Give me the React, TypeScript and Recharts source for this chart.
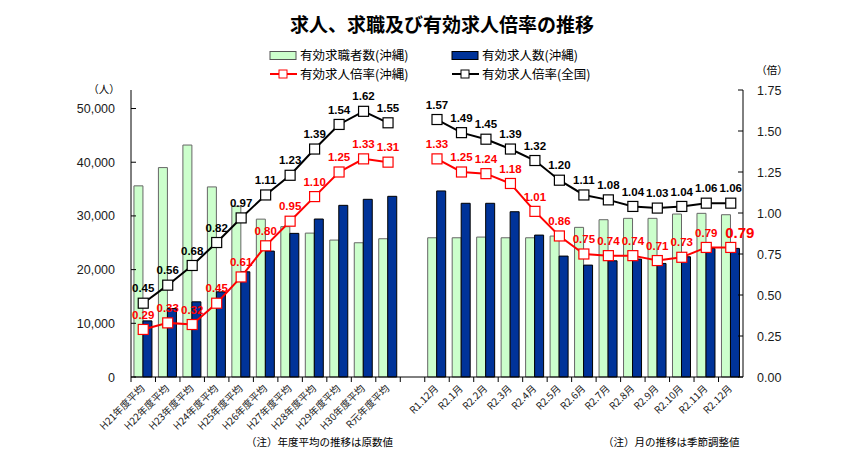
import React from 'react';
import { ComposedChart, Bar, Line, XAxis, YAxis } from 'recharts';

const categories = [
  'H21年度平均', 'H22年度平均', 'H23年度平均', 'H24年度平均', 'H25年度平均', 'H26年度平均',
  'H27年度平均', 'H28年度平均', 'H29年度平均', 'H30年度平均', 'R元年度平均', '',
  'R1.12月', 'R2.1月', 'R2.2月', 'R2.3月', 'R2.4月', 'R2.5月', 'R2.6月', 'R2.7月',
  'R2.8月', 'R2.9月', 'R2.10月', 'R2.11月', 'R2.12月',
];

const jobSeekersOkinawa = [
  35600, 39000, 43200, 35400, 31800, 29400, 28000, 26800, 25500, 25000, 25750, null,
  25930, 25930, 26060, 25930, 25930, 26250, 27870, 29290, 29550, 29550, 30350, 30480, 30220,
];

const jobOffersOkinawa = [
  10450, 12760, 14000, 15860, 19590, 23450, 26750, 29420, 31970, 33090, 33650, null,
  34650, 32350, 32350, 30780, 26430, 22520, 20840, 21640, 21960, 21150, 22390, 23950, 23950,
];

const ratioOkinawa = [
  0.29, 0.33, 0.32, 0.45, 0.61, 0.80, 0.95, 1.10, 1.25, 1.33, 1.31, null,
  1.33, 1.25, 1.24, 1.18, 1.01, 0.86, 0.75, 0.74, 0.74, 0.71, 0.73, 0.79, 0.79,
];

const ratioNational = [
  0.45, 0.56, 0.68, 0.82, 0.97, 1.11, 1.23, 1.39, 1.54, 1.62, 1.55, null,
  1.57, 1.49, 1.45, 1.39, 1.32, 1.20, 1.11, 1.08, 1.04, 1.03, 1.04, 1.06, 1.06,
];

const leftTicks = [0, 10000, 20000, 30000, 40000, 50000];
const rightTicks = [0, 0.25, 0.5, 0.75, 1.0, 1.25, 1.5, 1.75];

const legendLabels = ['有効求職者数(沖縄)', '有効求人数(沖縄)', '有効求人倍率(沖縄)', '有効求人倍率(全国)'];
const title = '求人、求職及び有効求人倍率の推移';
const noteAnnual = '（注）年度平均の推移は原数値';
const noteMonthly = '（注）月の推移は季節調整値';

const data = categories.map((c, i) => ({
  name: c,
  seekers: jobSeekersOkinawa[i],
  offers: jobOffersOkinawa[i],
  okinawa: ratioOkinawa[i],
  national: ratioNational[i],
}));

const W = 850;
const H = 458;
const LEFT_W = 131;
const RIGHT_W = 107;
const BAND = (W - LEFT_W - RIGHT_W) / categories.length;

const GREEN = '#ccffcc';
const BLUE = '#003399';
const RED = '#ff0000';
const NUM_FONT = '"Liberation Sans", Arial, sans-serif';
const JP_FONT = '"Noto Sans CJK JP", sans-serif';

const LeftTick = (props: any) => {
  const { x, y, payload } = props;
  return (
    <g>
      <line x1={x + 16} x2={x + 21} y1={y} y2={y} stroke="#000" strokeWidth={1} />
      <text x={x} y={y} dy="0.36em" textAnchor="end" fontFamily={NUM_FONT} fontSize={12.5} fill="#1a1a1a">
        {payload.value.toLocaleString('en-US')}
      </text>
    </g>
  );
};

const RightTick = (props: any) => {
  const { x, y, payload } = props;
  return (
    <g>
      <line x1={x - 14} x2={x - 19} y1={y} y2={y} stroke="#000" strokeWidth={1} />
      <text x={x} y={y} dy="0.36em" textAnchor="start" fontFamily={NUM_FONT} fontSize={12.5} fill="#1a1a1a">
        {payload.value.toFixed(2)}
      </text>
    </g>
  );
};

const XTick = (props: any) => {
  const { x, y, payload } = props;
  const bx = x - BAND / 2;
  return (
    <g>
      <line x1={bx} x2={bx} y1={y} y2={y + 5} stroke="#000" strokeWidth={1} />
      {payload.value ? (
        <text
          x={x}
          y={y + 10}
          textAnchor="end"
          dy="0.3em"
          transform={`rotate(-45, ${x}, ${y + 10})`}
          fontFamily={JP_FONT}
          fontSize={10}
          fill="#222"
        >
          {payload.value}
        </text>
      ) : null}
    </g>
  );
};

const squareDot = (stroke: string) => (props: any) => {
  const { cx, cy, value, index } = props;
  if (value == null || cx == null || cy == null) return <g key={`d${index}`} />;
  return (
    <rect key={`d${index}`} x={cx - 5} y={cy - 5} width={10} height={10} fill="#fff" stroke={stroke} strokeWidth={1.2} />
  );
};

const makeLabel = (color: string, bigLast: boolean) => (props: any) => {
  const { x, y, value, index } = props;
  if (value == null || x == null || y == null) return null;
  const isBig = bigLast && index === categories.length - 1;
  return (
    <text
      key={`l${index}`}
      x={isBig ? x + 9 : x}
      y={y - 15}
      dy="0.36em"
      textAnchor="middle"
      fontFamily={NUM_FONT}
      fontWeight="bold"
      fontSize={isBig ? 15 : 11.5}
      fill={color}
    >
      {Number(value).toFixed(2)}
    </text>
  );
};

export default function App() {
  return (
    <div style={{ position: 'fixed', left: 0, top: 0, width: W, height: H, background: '#fff' }}>
      <div style={{ position: 'absolute', left: 0, top: 0 }}>
        <ComposedChart
          width={W}
          height={H}
          data={data}
          margin={{ top: 90, right: 0, bottom: 21, left: 0 }}
          barCategoryGap="12%"
          barGap={0}
        >
          <XAxis
            dataKey="name"
            xAxisId="x"
            interval={0}
            height={60}
            tickSize={0}
            tickMargin={0}
            tickLine={false}
            axisLine={{ stroke: '#000', strokeWidth: 1 }}
            tick={<XTick />}
          />
          <YAxis
            yAxisId="left"
            orientation="left"
            width={LEFT_W}
            domain={[0, 53450]}
            ticks={leftTicks}
            tickSize={0}
            tickMargin={16}
            tickLine={false}
            axisLine={{ stroke: '#000', strokeWidth: 1 }}
            tick={<LeftTick />}
          />
          <YAxis
            yAxisId="right"
            orientation="right"
            width={RIGHT_W}
            domain={[0, 1.75]}
            ticks={rightTicks}
            tickSize={0}
            tickMargin={14}
            tickLine={false}
            axisLine={{ stroke: '#000', strokeWidth: 1 }}
            tick={<RightTick />}
          />
          <Bar xAxisId="x" yAxisId="left" dataKey="seekers" fill={GREEN} stroke="#666" strokeWidth={1} isAnimationActive={false} />
          <Bar xAxisId="x" yAxisId="left" dataKey="offers" fill={BLUE} stroke="#000" strokeWidth={1} isAnimationActive={false} />
          <Line
            xAxisId="x"
            yAxisId="right"
            dataKey="national"
            stroke="#000"
            strokeWidth={2}
            dot={squareDot('#000')}
            activeDot={false}
            label={makeLabel('#000', false)}
            isAnimationActive={false}
          />
          <Line
            xAxisId="x"
            yAxisId="right"
            dataKey="okinawa"
            stroke={RED}
            strokeWidth={2}
            dot={squareDot(RED)}
            activeDot={false}
            label={makeLabel(RED, true)}
            isAnimationActive={false}
          />
        </ComposedChart>
      </div>
      <svg width={W} height={H} style={{ position: 'absolute', left: 0, top: 0, pointerEvents: 'none' }}>
        <text x={442} y={25} dy="0.36em" textAnchor="middle" fontFamily={JP_FONT} fontWeight="bold" fontSize={19} fill="#000">
          {title}
        </text>
        {/* legend */}
        <rect x={270} y={51.5} width={26} height={8} fill={GREEN} stroke="#555" strokeWidth={1} />
        <text x={300} y={55.5} dy="0.36em" fontFamily={JP_FONT} fontSize={12.5} fill="#000">{legendLabels[0]}</text>
        <rect x={452} y={51.5} width={26} height={8} fill={BLUE} stroke="#000" strokeWidth={1} />
        <text x={482} y={55.5} dy="0.36em" fontFamily={JP_FONT} fontSize={12.5} fill="#000">{legendLabels[1]}</text>
        <line x1={270} x2={297} y1={74} y2={74} stroke={RED} strokeWidth={2} />
        <rect x={279} y={70} width={8} height={8} fill="#fff" stroke={RED} strokeWidth={1} />
        <text x={300} y={74} dy="0.36em" fontFamily={JP_FONT} fontSize={12.5} fill="#000">{legendLabels[2]}</text>
        <line x1={452} x2={479} y1={74} y2={74} stroke="#000" strokeWidth={2} />
        <rect x={461} y={70} width={8} height={8} fill="#fff" stroke="#000" strokeWidth={1} />
        <text x={482} y={74} dy="0.36em" fontFamily={JP_FONT} fontSize={12.5} fill="#000">{legendLabels[3]}</text>
        {/* units */}
        <text x={104} y={89} dy="0.36em" textAnchor="middle" fontFamily={JP_FONT} fontSize={10.5} fill="#000">（人）</text>
        <text x={772} y={70} dy="0.36em" textAnchor="middle" fontFamily={JP_FONT} fontSize={10.5} fill="#000">（倍）</text>
        {/* notes */}
        <text x={246} y={442} dy="0.36em" fontFamily={JP_FONT} fontSize={10.5} fill="#000">{noteAnnual}</text>
        <text x={603} y={442} dy="0.36em" fontFamily={JP_FONT} fontSize={10.5} fill="#000">{noteMonthly}</text>
      </svg>
    </div>
  );
}
